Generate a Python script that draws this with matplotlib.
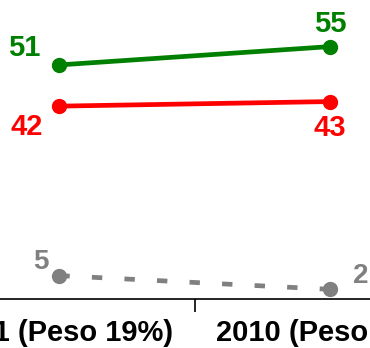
#librerias
import matplotlib
matplotlib.use("Agg")
import matplotlib.pyplot as plt

#datos
anios = ["2001 (Peso 19%)", "2010 (Peso 81%)"]
verde = [51, 55]
rojo = [42, 43]
gris = [5, 2]

plt.rcParams["font.family"] = ["Liberation Sans", "DejaVu Sans"]
plt.rcParams["font.weight"] = "bold"

fig = plt.figure(figsize=(3.7, 3.48), dpi=100)
# el eje es mas ancho que la figura, asi que queda cortado a los lados
ax = fig.add_axes([-76 / 370, 49.5 / 348, 541.4 / 370, 297.7 / 348])

x = list(range(len(anios)))
ax.plot(x, verde, color="#008000", lw=3.4, marker="o", ms=10, solid_capstyle="round")
ax.plot(x, rojo, color="#ff0000", lw=3.4, marker="o", ms=10, solid_capstyle="round")
ax.plot(x, gris, color="#808080", lw=3.4, marker="o", ms=10,
        linestyle=(0, (2.2, 4.7)), dash_capstyle="butt")

#etiquetas de los valores
def etiqueta(xv, yv, color, dx, dy, size=21):
    ax.annotate(str(yv), (xv, yv), xytext=(dx, dy), textcoords="offset pixels",
                ha="center", va="center", color=color, fontsize=size,
                fontweight="bold")

etiqueta(0, verde[0], "#008000", -35, 17)
etiqueta(1, verde[1], "#008000", 0, 23)
etiqueta(0, rojo[0], "#ff0000", -33, -21)
etiqueta(1, rojo[1], "#ff0000", 0, -26)
etiqueta(0, gris[0], "#808080", -18, 14, 20)
etiqueta(1, gris[1], "#808080", 31, 13, 20)

ax.set_xlim(-0.5, 1.5)
ax.set_ylim(0, 65)
for lado in ["top", "right", "left"]:
    ax.spines[lado].set_visible(False)
ax.spines["bottom"].set_linewidth(1.2)
ax.set_yticks([])
ax.set_xticks(x)
ax.set_xticklabels(anios, fontsize=21, fontweight="bold")
ax.tick_params(axis="x", which="major", length=0, pad=15)
ax.set_xticks([0.5], minor=True)
ax.tick_params(axis="x", which="minor", length=9, width=1.2, direction="out")

fig.savefig("out.png", dpi=100)
